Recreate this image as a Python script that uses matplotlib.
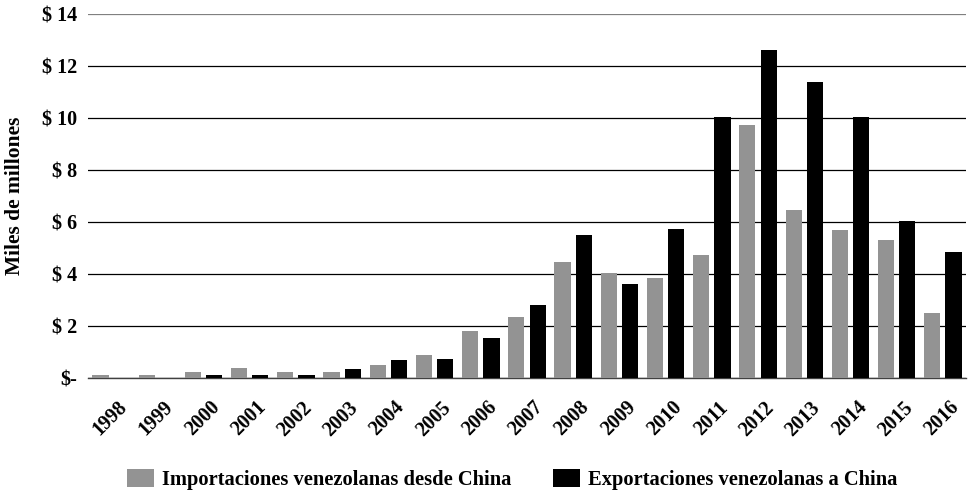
import numpy as np
import matplotlib.pyplot as plt
import matplotlib.transforms as mtransforms

years = [str(y) for y in range(1998, 2017)]
importaciones = [0.12, 0.12, 0.22, 0.37, 0.22, 0.22, 0.5, 0.9, 1.8, 2.35,
                 4.45, 4.05, 3.85, 4.75, 9.75, 6.45, 5.7, 5.3, 2.5]
exportaciones = [0.0, 0.0, 0.1, 0.12, 0.1, 0.35, 0.68, 0.75, 1.52, 2.8,
                 5.5, 3.6, 5.75, 10.05, 12.6, 11.4, 10.05, 6.05, 4.85]
yticks = [0, 2, 4, 6, 8, 10, 12, 14]
ytick_labels = ["$-", "$ 2", "$ 4", "$ 6", "$ 8", "$ 10", "$ 12", "$ 14"]

plt.rcParams['font.family'] = ['Liberation Serif', 'DejaVu Serif']
plt.rcParams['font.weight'] = 'bold'

fig = plt.figure(figsize=(9.79, 5.01), dpi=100)
ax = fig.add_axes([0.0899, 0.2455, 0.8968, 0.7265])

x = np.arange(len(years))
w = 0.35
ax.bar(x - 0.23, importaciones, w, color='#939393', label='Importaciones venezolanas desde China', zorder=3)
ax.bar(x + 0.23, exportaciones, w, color='#000000', label='Exportaciones venezolanas a China', zorder=3)

ax.set_xlim(-0.5, len(years) - 0.5)
ax.set_ylim(0, 14)
ax.set_yticks(yticks)
ax.set_yticklabels(ytick_labels, fontsize=14.5, fontweight='bold')
ax.set_xticks(x)
ax.set_xticklabels(years, rotation=45, ha='right', rotation_mode='anchor',
                   fontsize=14.5, fontweight='bold')
ax.tick_params(axis='y', length=0, pad=8)
ax.tick_params(axis='x', length=0, pad=14)
shift = mtransforms.ScaledTranslation(6 / 100, 0, fig.dpi_scale_trans)
for lab in ax.get_xticklabels():
    lab.set_transform(lab.get_transform() + shift)

ax.grid(axis='y', color='black', linewidth=0.9, zorder=0)
ax.get_ygridlines()[-1].set_color('#808080')
for s in ['top', 'right', 'left']:
    ax.spines[s].set_visible(False)
ax.spines['bottom'].set_linewidth(1.0)
ax.spines['bottom'].set_color('#404040')
ax.set_ylabel('Miles de millones', fontsize=15.5, fontweight='bold')
ax.yaxis.set_label_coords(-0.072, 0.5)

ax.legend(loc='center', bbox_to_anchor=(0.483, -0.28), ncol=2, frameon=False,
          fontsize=14.8, handlelength=1.31, handleheight=0.97, columnspacing=2.0,
          handletextpad=0.39)

fig.savefig('out.png', dpi=100)
